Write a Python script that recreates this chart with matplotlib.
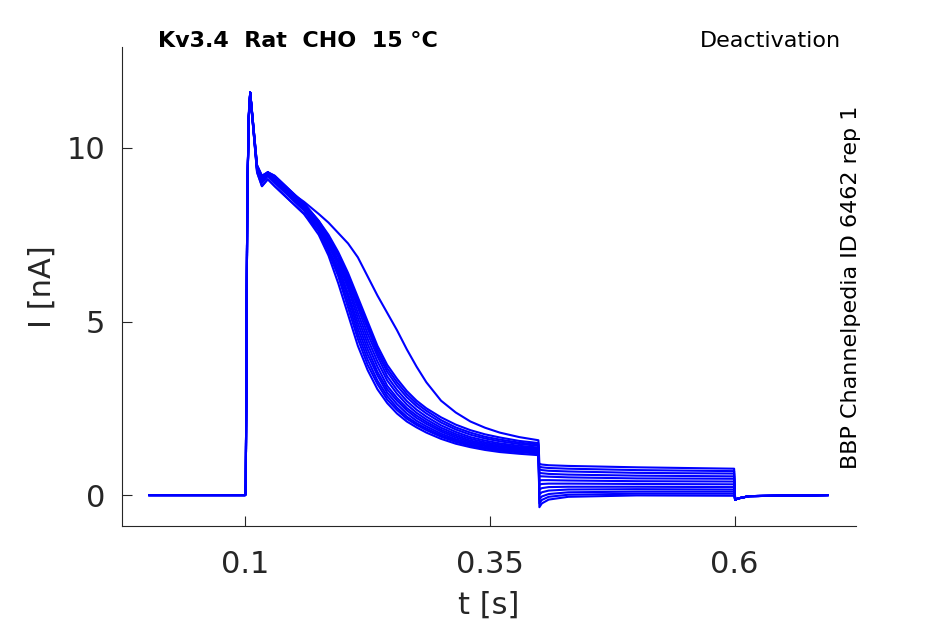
import numpy as np
import matplotlib
matplotlib.use('Agg')
import matplotlib.pyplot as plt

# time grid [s]
t_pre = [0.002, 0.0999]
t_act = [0.1005, 0.1020, 0.1035, 0.1050, 0.1080, 0.1120, 0.1170, 0.1230, 0.1300,
         0.1450, 0.1600, 0.1750, 0.1850, 0.1950, 0.2050, 0.2150, 0.2250, 0.2350,
         0.2450, 0.2550, 0.2650, 0.2750, 0.2850, 0.3000, 0.3150, 0.3300, 0.3450,
         0.3600, 0.3800, 0.3995]
t_tail = [0.4005, 0.4030, 0.4100, 0.4300, 0.5000, 0.5995]
t_post = [0.6005, 0.6030, 0.6150, 0.6950]

# current during the activating step [nA], one row per sweep
act = [
    [0.3, 8.5, 11.0, 11.6, 10.6, 9.4, 9.1, 9.3, 9.1, 8.75, 8.45, 8.1, 7.85, 7.55, 7.25, 6.85, 6.3, 5.75,
     5.25, 4.75, 4.2, 3.7, 3.25, 2.72, 2.38, 2.12, 1.94, 1.8, 1.67, 1.58],
    [0.3, 8.5, 10.8, 11.6, 10.6, 9.3, 8.9, 9.1, 8.9, 8.5, 8.1, 7.5, 6.9, 6.1, 5.2, 4.3, 3.6, 3.05,
     2.65, 2.35, 2.12, 1.95, 1.8, 1.62, 1.48, 1.38, 1.3, 1.24, 1.19, 1.15],
    [0.3, 8.5, 10.8, 11.6, 10.6, 9.3, 8.9, 9.1, 8.9, 8.5, 8.1, 7.6, 7.0, 6.3, 5.4, 4.5, 3.75, 3.2,
     2.75, 2.45, 2.2, 2.02, 1.87, 1.68, 1.53, 1.42, 1.34, 1.28, 1.23, 1.2],
    [0.3, 8.5, 10.8, 11.6, 10.6, 9.35, 9.0, 9.2, 9.0, 8.6, 8.2, 7.6, 7.05, 6.4, 5.55, 4.65, 3.9, 3.3,
     2.85, 2.52, 2.26, 2.07, 1.92, 1.72, 1.57, 1.45, 1.37, 1.31, 1.26, 1.22],
    [0.3, 8.5, 10.85, 11.6, 10.65, 9.4, 9.0, 9.2, 9.0, 8.6, 8.2, 7.7, 7.1, 6.5, 5.7, 4.8, 4.05, 3.45,
     2.95, 2.62, 2.35, 2.14, 1.98, 1.77, 1.61, 1.49, 1.41, 1.34, 1.29, 1.25],
    [0.3, 8.5, 10.85, 11.6, 10.65, 9.4, 9.05, 9.25, 9.05, 8.65, 8.25, 7.7, 7.2, 6.6, 5.8, 4.95, 4.2, 3.55,
     3.05, 2.72, 2.44, 2.22, 2.05, 1.83, 1.66, 1.53, 1.44, 1.38, 1.32, 1.28],
    [0.3, 8.5, 10.85, 11.6, 10.65, 9.4, 9.1, 9.25, 9.1, 8.7, 8.3, 7.75, 7.25, 6.7, 5.95, 5.1, 4.35, 3.7,
     3.15, 2.8, 2.51, 2.29, 2.11, 1.88, 1.71, 1.57, 1.48, 1.41, 1.35, 1.31],
    [0.3, 8.5, 10.9, 11.6, 10.7, 9.45, 9.1, 9.3, 9.1, 8.7, 8.3, 7.8, 7.3, 6.75, 6.05, 5.25, 4.5, 3.85,
     3.3, 2.92, 2.61, 2.37, 2.18, 1.94, 1.76, 1.62, 1.52, 1.45, 1.38, 1.34],
    [0.3, 8.5, 10.9, 11.6, 10.7, 9.45, 9.15, 9.3, 9.15, 8.75, 8.35, 7.8, 7.35, 6.85, 6.15, 5.4, 4.65, 4.0,
     3.42, 3.03, 2.71, 2.46, 2.26, 2.01, 1.82, 1.67, 1.57, 1.49, 1.42, 1.37],
    [0.3, 8.5, 10.9, 11.6, 10.7, 9.5, 9.15, 9.3, 9.15, 8.75, 8.35, 7.85, 7.4, 6.9, 6.25, 5.5, 4.8, 4.1,
     3.55, 3.15, 2.82, 2.56, 2.35, 2.09, 1.89, 1.74, 1.63, 1.55, 1.47, 1.42],
    [0.3, 8.5, 10.9, 11.6, 10.7, 9.5, 9.2, 9.3, 9.2, 8.8, 8.4, 7.9, 7.45, 6.95, 6.3, 5.6, 4.9, 4.2,
     3.65, 3.25, 2.91, 2.64, 2.43, 2.16, 1.95, 1.8, 1.68, 1.6, 1.51, 1.46],
    [0.3, 8.5, 10.9, 11.6, 10.7, 9.5, 9.2, 9.3, 9.2, 8.8, 8.4, 7.9, 7.5, 7.0, 6.4, 5.7, 5.0, 4.3,
     3.75, 3.35, 3.0, 2.72, 2.5, 2.24, 2.03, 1.87, 1.75, 1.66, 1.56, 1.5],
]

# tail currents at the deactivating step [nA]
tail = [
    [0.90, 0.88, 0.86, 0.84, 0.80, 0.76],
    [0.82, 0.80, 0.78, 0.76, 0.72, 0.69],
    [0.74, 0.72, 0.70, 0.68, 0.64, 0.62],
    [0.64, 0.63, 0.61, 0.59, 0.56, 0.54],
    [0.54, 0.54, 0.53, 0.51, 0.48, 0.47],
    [0.42, 0.43, 0.43, 0.42, 0.40, 0.39],
    [0.30, 0.32, 0.33, 0.33, 0.32, 0.31],
    [0.16, 0.20, 0.23, 0.24, 0.24, 0.23],
    [0.02, 0.08, 0.13, 0.16, 0.17, 0.16],
    [-0.12, -0.04, 0.03, 0.08, 0.10, 0.10],
    [-0.24, -0.14, -0.05, 0.01, 0.04, 0.04],
    [-0.35, -0.24, -0.13, -0.05, -0.01, -0.02],
]

i_pre = [0.0, 0.0]
i_post = [-0.14, -0.10, -0.03, 0.0]

xticks = [0.1, 0.35, 0.6]
yticks = [0, 5, 10]

dark = '#262626'

fig = plt.figure(figsize=[9.45, 6.24], dpi=100)
ax = fig.add_axes([0.1291, 0.1571, 0.7767, 0.7676])

t_all = t_pre + t_act + t_tail + t_post
for a, tl in zip(act, tail):
    ax.plot(t_all, i_pre + a + tl + i_post, color=(0, 0, 1), lw=1.5)

ax.set_xlim([-0.026, 0.724])
ax.set_ylim([-0.89, 12.91])
ax.set_xticks(xticks)
ax.set_xticklabels(['0.1', '0.35', '0.6'])
ax.set_yticks(yticks)

for s in ['top', 'right']:
    ax.spines[s].set_visible(False)
for s in ['left', 'bottom']:
    ax.spines[s].set_color(dark)
    ax.spines[s].set_linewidth(0.8)

ax.tick_params(axis='both', direction='in', length=7, width=0.8, color=dark,
               labelcolor=dark, labelsize=22)
ax.tick_params(axis='x', pad=17)
ax.tick_params(axis='y', pad=12)

ax.set_xlabel('t [s]', fontsize=22, color=dark)
ax.set_ylabel('I [nA]', fontsize=22, color=dark)
ax.xaxis.set_label_coords(0.5, -0.135)
ax.yaxis.set_label_coords(-0.089, 0.5)

fig.text(158/945, 1 - 47.3/624, 'Kv3.4  Rat  CHO  15 °C', fontsize=16,
         fontweight='bold', ha='left', va='baseline')
fig.text(841/945, 1 - 46.7/624, 'Deactivation', fontsize=16,
         ha='right', va='baseline')
fig.text(851/945, 1 - 287.5/624, 'BBP Channelpedia ID 6462 rep 1', fontsize=16,
         rotation=90, ha='center', va='center')

plt.savefig('out.png', dpi=100)
